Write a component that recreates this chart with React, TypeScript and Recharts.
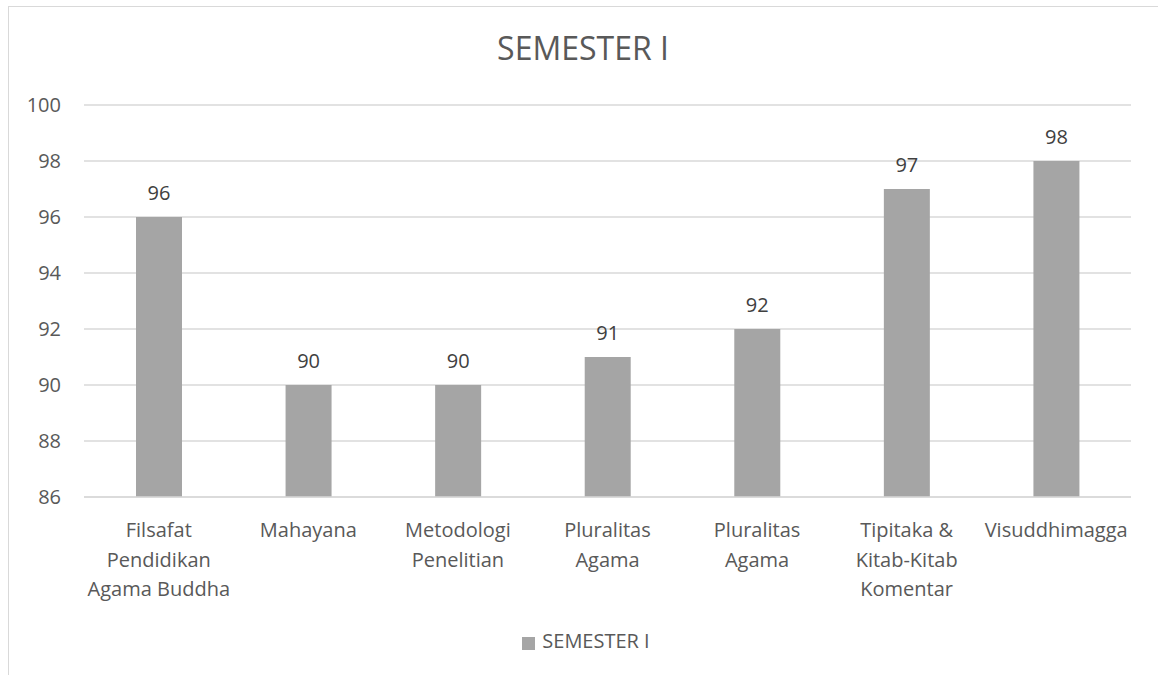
import { BarChart, Bar, XAxis, YAxis, CartesianGrid, Legend, LabelList } from "recharts";

const categories = [
  "Filsafat Pendidikan Agama Buddha",
  "Mahayana",
  "Metodologi Penelitian",
  "Pluralitas Agama",
  "Pluralitas Agama",
  "Tipitaka & Kitab-Kitab Komentar",
  "Visuddhimagga",
];
const semester1 = [96, 90, 90, 91, 92, 97, 98];
const yTicks = [86, 88, 90, 92, 94, 96, 98, 100];

const data = categories.map((name, i) => ({ name, key: i, value: semester1[i] }));

const FONT = "'Open Sans', sans-serif";
const TEXT = "#595959";

let ctx: CanvasRenderingContext2D | null = null;
function wrapWords(label: string, maxWidth: number): string[] {
  if (!ctx) {
    ctx = document.createElement("canvas").getContext("2d");
  }
  if (!ctx) return [label];
  ctx.font = "20px 'Open Sans'";
  const lines: string[] = [];
  let cur = "";
  for (const w of label.split(" ")) {
    const test = cur ? cur + " " + w : w;
    if (cur && ctx.measureText(test).width > maxWidth) {
      lines.push(cur);
      cur = w;
    } else {
      cur = test;
    }
  }
  if (cur) lines.push(cur);
  return lines;
}

// wrapped category label under each bar
const CategoryTick = (props: any) => {
  const { x, y, payload } = props;
  const lines = wrapWords(categories[payload.value], 148);
  return (
    <text x={x} y={y + 32} textAnchor="middle" fontSize={20} fontFamily={FONT} fill={TEXT}>
      {lines.map((l, i) => (
        <tspan key={i} x={x} dy={i === 0 ? 0 : 29.5}>
          {l}
        </tspan>
      ))}
    </text>
  );
};

export default function App() {
  return (
    <div style={{ position: "absolute", left: 0, top: 0, width: 1158, height: 675, background: "#fff", fontFamily: FONT }}>
      <div
        style={{
          position: "absolute",
          left: 8,
          top: 6,
          width: 1160,
          height: 680,
          borderLeft: "1.5px solid #d9d9d9",
          borderTop: "1.5px solid #d9d9d9",
        }}
      />
      <div
        style={{
          position: "absolute",
          left: 8,
          width: 1150,
          top: 28,
          textAlign: "center",
          fontSize: 32,
          color: TEXT,
          lineHeight: "40px",
        }}
      >
        SEMESTER I
      </div>
      <div style={{ position: "absolute", left: 0, top: 0 }}>
        <BarChart
          width={1158}
          height={675}
          data={data}
          margin={{ top: 105, right: 27, bottom: 111, left: 24 }}
        >
          <CartesianGrid vertical={false} stroke="#d9d9d9" strokeWidth={1.5} />
          <XAxis
            dataKey="key"
            type="category"
            axisLine={{ stroke: "#d9d9d9", strokeWidth: 1.5 }}
            tickLine={false}
            tick={<CategoryTick />}
            interval={0}
            height={40}
          />
          <YAxis
            domain={[86, 100]}
            ticks={yTicks}
            width={60}
            axisLine={false}
            tickLine={false}
            tickSize={0}
            tickMargin={23}
            tick={{ fontSize: 20, fill: TEXT, fontFamily: FONT }}
          />
          <Legend
            iconType="square"
            iconSize={13}
            formatter={(v: string) => <span style={{ color: TEXT, fontSize: 20, fontFamily: FONT, marginLeft: 3 }}>{v}</span>}
            wrapperStyle={{ left: 16, width: 1150, top: 627 }}
          />
          <Bar dataKey="value" name="SEMESTER I" fill="#a5a5a5" barSize={46} isAnimationActive={false}>
            <LabelList dataKey="value" position="top" offset={17} fontSize={20} fill="#404040" fontFamily={FONT} />
          </Bar>
        </BarChart>
      </div>
    </div>
  );
}
